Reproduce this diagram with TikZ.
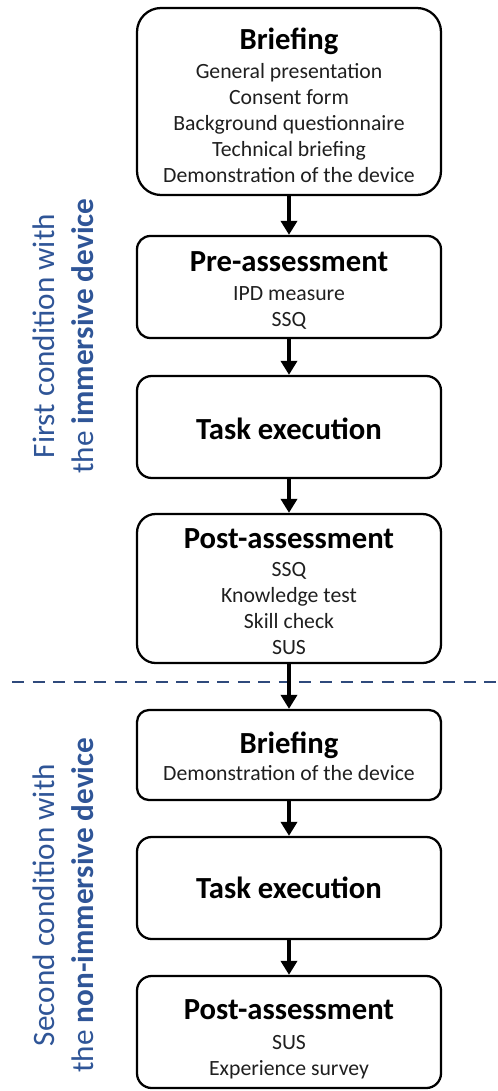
\documentclass[tikz,border=0pt]{standalone}
\usepackage{fontspec}
\setmainfont{Carlito}
\usetikzlibrary{arrows.meta}
\definecolor{sideblue}{HTML}{2F5597}
\definecolor{dashnavy}{HTML}{2F4A7C}
\begin{document}
\begin{tikzpicture}[x=0.75pt,y=-0.75pt]
\tikzset{
  stagebox/.style n args={2}{draw=black, line width=1.7pt, rounded corners=#2,
    minimum width=228pt, minimum height=#1, inner sep=0pt},
  title/.style={font=\fontsize{23}{27}\selectfont\bfseries, anchor=base, inner sep=0pt},
  item/.style={font=\fontsize{16.3}{19.5}\selectfont, anchor=base, inner sep=0pt, text=black!88},
  flow/.style={line width=3pt, -{Triangle[width=12pt,length=10.5pt]}},
  side/.style={font=\fontsize{23.4}{28}\selectfont, text=sideblue, rotate=90, anchor=base, inner sep=0pt},
  separator/.style={draw=dashnavy, line width=1.5pt, dash pattern=on 9pt off 6.4pt}
}
\useasboundingbox (0,0) rectangle (497,1091);

% separator
\coordinate (sepL) at (12,682);
\coordinate (sepR) at (497,682);
\draw[separator] (sepL) -- (sepR);

% boxes
\node[stagebox={140.25pt}{18pt}] (b1) at (289,101.5) {};
\node[stagebox={76.5pt}{10pt}]   (b2) at (289,287) {};
\node[stagebox={76.5pt}{11pt}]   (b3) at (289,427) {};
\node[stagebox={111.75pt}{14pt}] (b4) at (289,588.5) {};
\node[stagebox={67.5pt}{9pt}]    (b5) at (289,755) {};
\node[stagebox={76.5pt}{11pt}]   (b6) at (289,888) {};
\node[stagebox={84pt}{11pt}]     (b7) at (289,1032) {};

% texts box 1
\node[title] (t1) at (289,50) {Briefing};
\node[item] (t1a) at (289,79)  {General presentation};
\node[item] (t1b) at (289,105) {Consent form};
\node[item] (t1c) at (289,131) {Background questionnaire};
\node[item] (t1d) at (289,157) {Technical briefing};
\node[item] (t1e) at (289,183) {Demonstration of the device};
% box 2
\node[title] (t2) at (289,272) {Pre-assessment};
\node[item] (t2a) at (289,300) {IPD measure};
\node[item] (t2b) at (289,326) {SSQ};
% box 3
\node[title] (t3) at (289,439) {Task execution};
% box 4
\node[title] (t4) at (289,548) {Post-assessment};
\node[item] (t4a) at (289,576) {SSQ};
\node[item] (t4b) at (289,602) {Knowledge test};
\node[item] (t4c) at (289,628) {Skill check};
\node[item] (t4d) at (289,654) {SUS};
% box 5
\node[title] (t5) at (289,753) {Briefing};
\node[item] (t5a) at (289,780) {Demonstration of the device};
% box 6
\node[title] (t6) at (289,898) {Task execution};
% box 7
\node[title] (t7) at (289,1019) {Post-assessment};
\node[item] (t7a) at (289,1049) {SUS};
\node[item] (t7b) at (289,1075) {Experience survey};

% arrows
\draw[flow] (b1.south) -- (b2.north);
\draw[flow] (b2.south) -- (b3.north);
\draw[flow] (b3.south) -- (b4.north);
\draw[flow] (b4.south) -- (b5.north);
\draw[flow] (b5.south) -- (b6.north);
\draw[flow] (b6.south) -- (b7.north);

% side labels
\node[side] (s1a) at (54,336) {First condition with};
\node[side] (s1b) at (93,336) {the \textbf{immersive device}};
\node[side] (s2a) at (54,905) {Second condition with};
\node[side] (s2b) at (93,905) {the \textbf{non-immersive device}};
\end{tikzpicture}
\end{document}
